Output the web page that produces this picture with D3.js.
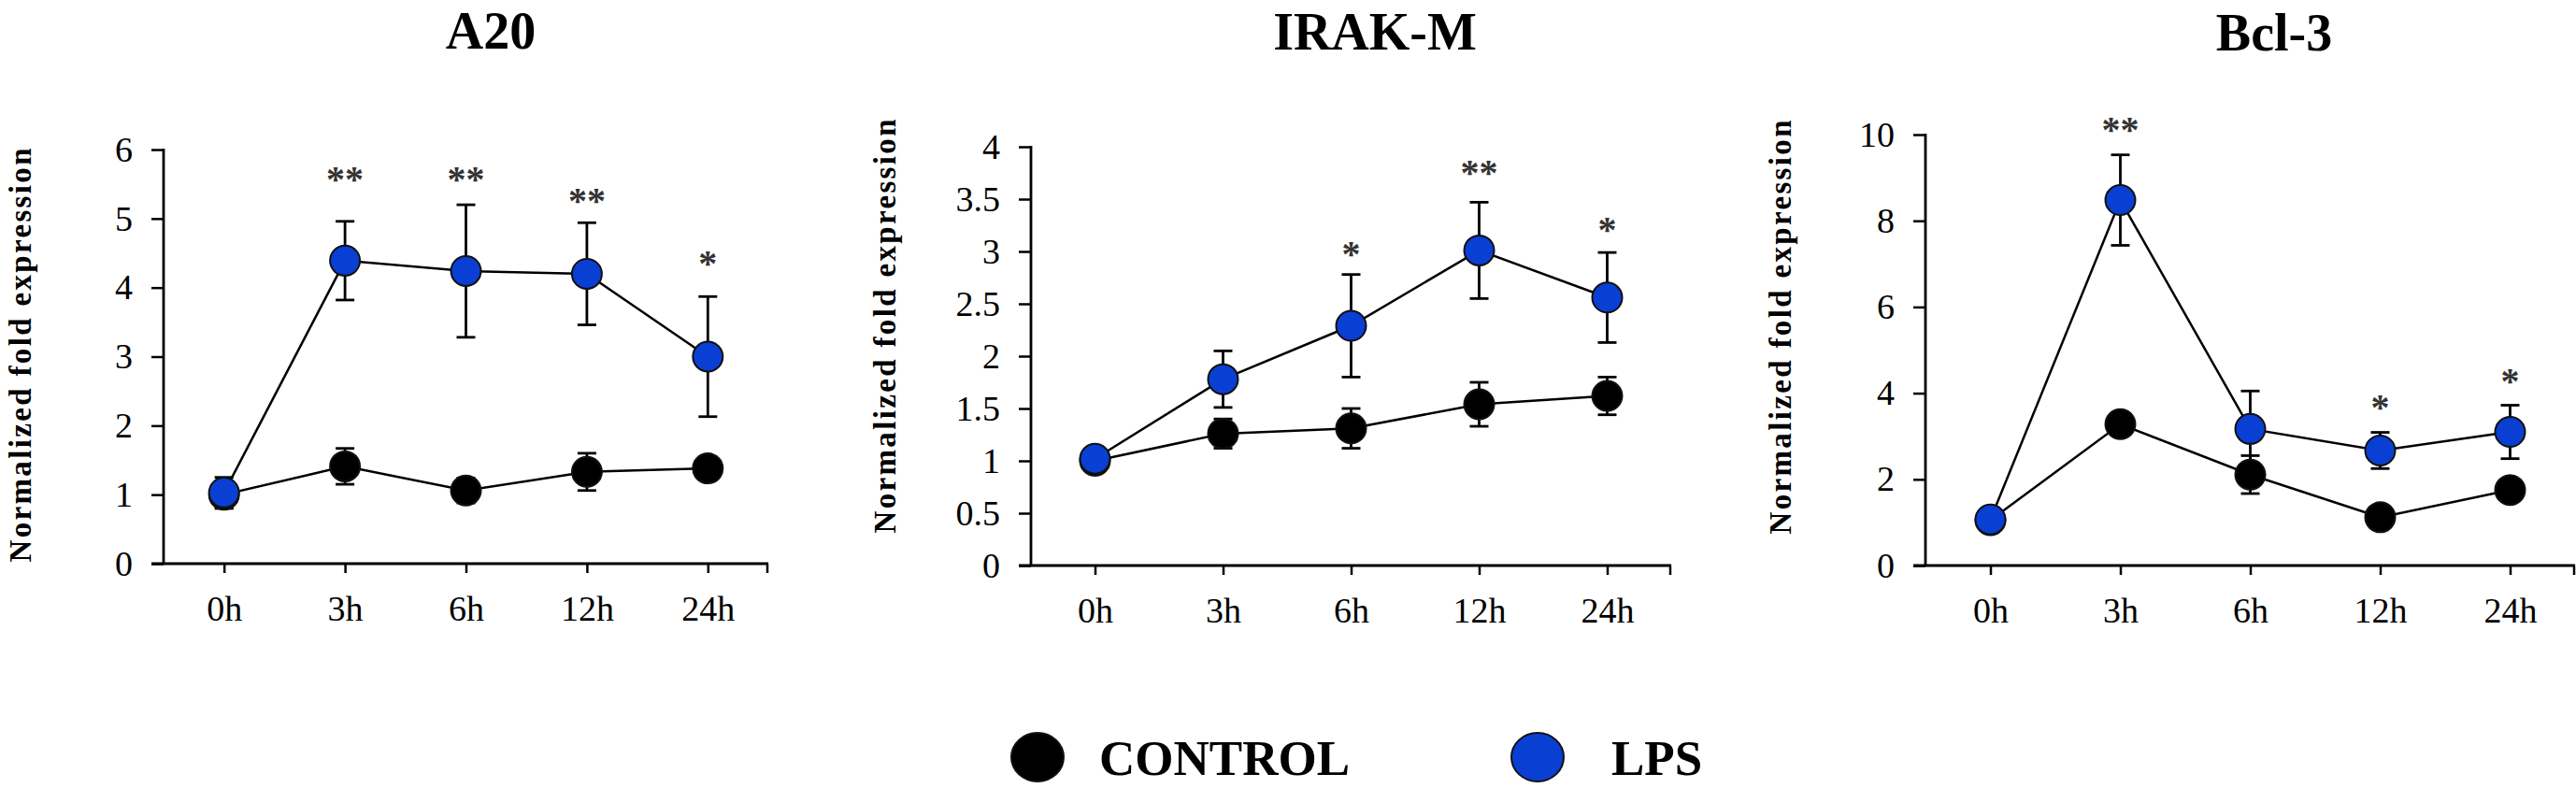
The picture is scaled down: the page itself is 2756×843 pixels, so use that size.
<!DOCTYPE html>
<html>
<head>
<meta charset="utf-8">
<script src="https://cdn.jsdelivr.net/npm/d3@7"></script>
<style>
  html, body { margin: 0; padding: 0; background: #fff; }
  svg { display: block; }
  text { font-family: "Liberation Serif", "Times New Roman", serif; }
</style>
</head>
<body>
<svg id="chart" width="2756" height="843"></svg>
<script>
// ---------------- DATA ----------------
const timepoints = ["0h", "3h", "6h", "12h", "24h"];
const seriesNames = ["CONTROL", "LPS"];
const panelTitles = ["A20", "IRAK-M", "Bcl-3"];
const yLabel = "Normalized fold expression";

// A20
const a20Control    = [1.00, 1.41, 1.06, 1.33, 1.38];
const a20ControlErr = [0.20, 0.26, 0.18, 0.27, 0.17];
const a20Lps        = [1.03, 4.39, 4.24, 4.20, 3.00];
const a20LpsErr     = [0.22, 0.57, 0.96, 0.74, 0.87];
const a20Sig        = ["", "**", "**", "**", "*"];
const a20SigLevel   = [null, 5.66, 5.66, 5.35, 4.44];
const a20Ticks      = [0, 1, 2, 3, 4, 5, 6];

// IRAK-M
const irakControl    = [1.00, 1.26, 1.31, 1.54, 1.62];
const irakControlErr = [0.05, 0.14, 0.19, 0.21, 0.18];
const irakLps        = [1.02, 1.78, 2.29, 3.01, 2.56];
const irakLpsErr     = [0.09, 0.27, 0.49, 0.46, 0.43];
const irakSig        = ["", "", "*", "**", "*"];
const irakSigLevel   = [null, null, 3.04, 3.81, 3.27];
const irakTicks      = [0, 0.5, 1, 1.5, 2, 2.5, 3, 3.5, 4];

// Bcl-3
const bclControl    = [1.05, 3.28, 2.11, 1.12, 1.75];
const bclControlErr = [0, 0, 0.44, 0, 0];
const bclLps        = [1.07, 8.48, 3.17, 2.67, 3.10];
const bclLpsErr     = [0, 1.05, 0.88, 0.42, 0.62];
const bclSig        = ["", "**", "", "*", "*"];
const bclSigLevel   = [null, 10.26, null, 3.82, 4.43];
const bclTicks      = [0, 2, 4, 6, 8, 10];

// ---------------- LAYOUT / STYLE ----------------
const colors = { CONTROL: "#000000", LPS: "#0a3fd4" };
const panels = [
  { title: panelTitles[0], ticks: a20Ticks, ctrl: a20Control, ctrlErr: a20ControlErr, lps: a20Lps, lpsErr: a20LpsErr, sig: a20Sig, sigLevel: a20SigLevel,
    x0: 175, x1: 822, yTop: 160, yBot: 603, titleX: 525, titleY: 52, labelX: 22, labelY: 380 },
  { title: panelTitles[1], ticks: irakTicks, ctrl: irakControl, ctrlErr: irakControlErr, lps: irakLps, lpsErr: irakLpsErr, sig: irakSig, sigLevel: irakSigLevel,
    x0: 1103, x1: 1788, yTop: 157, yBot: 605, titleX: 1471, titleY: 53, labelX: 947, labelY: 349 },
  { title: panelTitles[2], ticks: bclTicks, ctrl: bclControl, ctrlErr: bclControlErr, lps: bclLps, lpsErr: bclLpsErr, sig: bclSig, sigLevel: bclSigLevel,
    x0: 2060, x1: 2755, yTop: 144, yBot: 605, titleX: 2433, titleY: 54, labelX: 1905, labelY: 350 }
];

const svg = d3.select("#chart");
const R = 16, CAP = 10;

panels.forEach(p => {
  const g = svg.append("g");
  const x = d3.scalePoint().domain(timepoints).range([p.x0, p.x1]).padding(0.5);
  const y = d3.scaleLinear().domain([0, d3.max(p.ticks)]).range([p.yBot, p.yTop]);

  // title
  g.append("text").attr("x", p.titleX).attr("y", p.titleY)
    .attr("text-anchor", "middle").attr("font-size", 56).attr("font-weight", "bold")
    .text(p.title);

  // y label
  g.append("text")
    .attr("transform", `translate(${p.labelX},${p.labelY}) rotate(-90)`)
    .attr("text-anchor", "middle").attr("dominant-baseline", "central")
    .attr("font-size", 33).attr("font-weight", "bold")
    .attr("textLength", 443).attr("lengthAdjust", "spacing")
    .text(yLabel);

  // y axis
  const yAxis = d3.axisLeft(y).tickValues(p.ticks).tickSize(13).tickPadding(20)
    .tickFormat(d => String(d));
  const ya = g.append("g").attr("transform", `translate(${p.x0},0)`).call(yAxis);
  ya.select(".domain").remove();
  ya.selectAll("line").attr("stroke", "#000").attr("stroke-width", 2.5);
  ya.selectAll("text").attr("font-size", 38).attr("font-family", "Liberation Serif").attr("fill", "#000");
  g.append("line").attr("x1", p.x0).attr("x2", p.x0).attr("y1", y(d3.max(p.ticks)) - 1).attr("y2", p.yBot)
    .attr("stroke", "#000").attr("stroke-width", 2.8);

  // x axis
  const xAxis = d3.axisBottom(x).tickSize(10).tickSizeOuter(0);
  const xa = g.append("g").attr("transform", `translate(0,${p.yBot})`).call(xAxis);
  xa.select(".domain").remove();
  xa.selectAll("line").attr("stroke", "#000").attr("stroke-width", 2.5);
  xa.selectAll("text").attr("font-size", 38).attr("font-family", "Liberation Serif").attr("fill", "#000")
    .attr("y", 61).attr("dy", 0);
  g.append("line").attr("x1", p.x0 - 13).attr("x2", p.x1).attr("y1", p.yBot).attr("y2", p.yBot)
    .attr("stroke", "#000").attr("stroke-width", 2.8);
  g.append("line").attr("x1", p.x1 - 1).attr("x2", p.x1 - 1).attr("y1", p.yBot).attr("y2", p.yBot + 10)
    .attr("stroke", "#000").attr("stroke-width", 2.5);

  const series = [
    { name: "CONTROL", vals: p.ctrl, err: p.ctrlErr },
    { name: "LPS", vals: p.lps, err: p.lpsErr }
  ];
  const line = d3.line().x((d, i) => x(timepoints[i])).y(d => y(d));

  // lines
  series.forEach(s => {
    g.append("path").datum(s.vals).attr("d", line)
      .attr("fill", "none").attr("stroke", "#000").attr("stroke-width", 2.5);
  });

  // error bars
  series.forEach(s => {
    const eb = g.append("g");
    s.vals.forEach((v, i) => {
      const e = s.err[i];
      if (!e) return;
      const cx = x(timepoints[i]);
      eb.append("line").attr("x1", cx).attr("x2", cx).attr("y1", y(v + e)).attr("y2", y(v - e))
        .attr("stroke", "#000").attr("stroke-width", 2.8);
      [v + e, v - e].forEach(b => {
        eb.append("line").attr("x1", cx - CAP).attr("x2", cx + CAP).attr("y1", y(b)).attr("y2", y(b))
          .attr("stroke", "#000").attr("stroke-width", 2.8);
      });
    });
  });

  // markers
  series.forEach(s => {
    g.append("g").selectAll("ellipse").data(s.vals).join("ellipse")
      .attr("cx", (d, i) => x(timepoints[i])).attr("cy", d => y(d))
      .attr("rx", R).attr("ry", R)
      .attr("fill", colors[s.name]).attr("stroke", "#111").attr("stroke-width", 2);
  });

  // significance stars
  p.sig.forEach((txt, i) => {
    if (!txt) return;
    g.append("text").attr("x", x(timepoints[i])).attr("y", y(p.sigLevel[i]) + 20)
      .attr("text-anchor", "middle").attr("font-size", 40).attr("font-weight", "bold")
      .attr("fill", "#333").text(txt);
  });
});

// ---------------- LEGEND ----------------
const legendPos = [ { cx: 1110, tx: 1176 }, { cx: 1645, tx: 1724 } ];
const leg = svg.append("g");
seriesNames.forEach((name, i) => {
  leg.append("ellipse").attr("cx", legendPos[i].cx).attr("cy", 810).attr("rx", 28).attr("ry", 26)
    .attr("fill", colors[name]).attr("stroke", "#111").attr("stroke-width", 2);
  leg.append("text").attr("x", legendPos[i].tx).attr("y", 829)
    .attr("font-size", 53).attr("font-weight", "bold").text(name);
});
</script>
</body>
</html>
